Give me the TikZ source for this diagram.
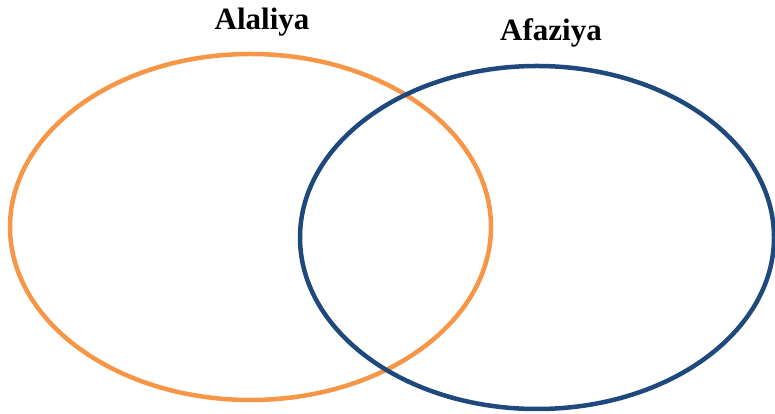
\documentclass[tikz,border=0pt]{standalone}
\usepackage{fontspec}
\setmainfont{Liberation Serif}
\usepackage{tikz}

\definecolor{alaorange}{RGB}{247,150,70}
\definecolor{afablue}{RGB}{31,73,125}

\begin{document}
\begin{tikzpicture}[x=1pt, y=1pt, line width=4.5pt,
	label/.style={font=\bfseries\fontsize{31}{36}\selectfont, inner sep=0pt}]
\useasboundingbox (0,0) rectangle (775,414);
\draw[alaorange] (250.5,187) ellipse (240.5 and 173);
\draw[afablue] (537,176.5) ellipse (237 and 171.5);
\node[label] (alaliya) at (262,392) {Alaliya};
\node[label] (afaziya) at (551,381) {Afaziya};
\end{tikzpicture}
\end{document}
